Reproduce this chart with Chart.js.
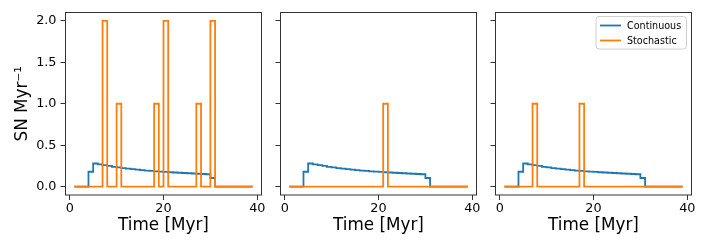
<!DOCTYPE html>
<html>
<head>
<meta charset="utf-8">
<script src="https://cdn.jsdelivr.net/npm/chart.js@4"></script>
<style>
  html, body { margin: 0; padding: 0; background: #fff; }
  #wrap { position: relative; width: 706px; height: 247px; }
  #wrap canvas { position: absolute; left: 0; top: 0; }
</style>
</head>
<body>
<div id="wrap">
  <canvas id="panel1" width="706" height="247"></canvas>
  <canvas id="panel2" width="706" height="247"></canvas>
  <canvas id="panel3" width="706" height="247"></canvas>
</div>
<script>
// time bins (Myr) and SN rates
const timeMyr = [1, 2, 3, 4, 5, 6, 7, 8, 9, 10, 11, 12, 13, 14, 15, 16, 17, 18, 19, 20,
  21, 22, 23, 24, 25, 26, 27, 28, 29, 30, 31, 32, 33, 34, 35, 36, 37, 38, 39]
const continuous = [0, 0, 0, 0.18, 0.28, 0.27, 0.26, 0.25, 0.24, 0.232, 0.225, 0.218, 0.212, 0.206,
  0.2, 0.195, 0.19, 0.186, 0.182, 0.178, 0.174, 0.171, 0.168, 0.165, 0.162, 0.159, 0.156, 0.153,
  0.15, 0.105, 0, 0, 0, 0, 0, 0, 0, 0, 0]
const stochastic1 = [0, 0, 0, 0, 0, 0, 2, 0, 0, 1, 0, 0, 0, 0, 0, 0, 0, 1, 0, 2,
  0, 0, 0, 0, 0, 0, 1, 0, 0, 2, 0, 0, 0, 0, 0, 0, 0, 0, 0]
const stochastic2 = [0, 0, 0, 0, 0, 0, 0, 0, 0, 0, 0, 0, 0, 0, 0, 0, 0, 0, 0, 0,
  1, 0, 0, 0, 0, 0, 0, 0, 0, 0, 0, 0, 0, 0, 0, 0, 0, 0, 0]
const stochastic3 = [0, 0, 0, 0, 0, 0, 1, 0, 0, 0, 0, 0, 0, 0, 0, 0, 1, 0, 0, 0,
  0, 0, 0, 0, 0, 0, 0, 0, 0, 0, 0, 0, 0, 0, 0, 0, 0, 0, 0]
const xTicks = [0, 20, 40]
const yTicks = [0, 0.5, 1, 1.5, 2]
const seriesLabels = ['Continuous', 'Stochastic']
const seriesColors = ['#1f77b4', '#ff7f0e']

Chart.defaults.font.family = '"DejaVu Sans", sans-serif'
Chart.defaults.color = '#000'

const frame = {
  id: 'frame',
  afterDatasetsDraw (chart) {
    const { ctx, chartArea: a } = chart
    ctx.save()
    ctx.strokeStyle = '#333'
    ctx.lineWidth = 1
    ctx.strokeRect(a.left, a.top, a.right - a.left, a.bottom - a.top)
    ctx.restore()
  }
}

const insetLegend = {
  id: 'insetLegend',
  afterDraw (chart) {
    const { ctx, chartArea: a } = chart
    const w = 90.5
    const h = 32.5
    const x0 = a.right - 5 - w
    const y0 = a.top + 4
    ctx.save()
    ctx.beginPath()
    ctx.roundRect(x0, y0, w, h, 3)
    ctx.fillStyle = 'rgba(255,255,255,0.8)'
    ctx.fill()
    ctx.strokeStyle = '#d0d0d0'
    ctx.lineWidth = 1
    ctx.stroke()
    ctx.font = '9.6px "DejaVu Sans"'
    ctx.textBaseline = 'middle'
    ctx.fillStyle = '#000'
    chart.data.datasets.forEach((ds, i) => {
      const y = y0 + 9 + i * 15
      ctx.beginPath()
      ctx.moveTo(x0 + 4, y)
      ctx.lineTo(x0 + 25, y)
      ctx.strokeStyle = ds.borderColor
      ctx.lineWidth = 1.8
      ctx.stroke()
      ctx.fillText(ds.label, x0 + 31, y + 0.5)
    })
    ctx.restore()
  }
}

function toPoints (values) {
  return timeMyr.map((t, i) => ({ x: t, y: values[i] }))
}

function makePanel (id, stochastic, left, right, showY, extraPlugins) {
  const yWidth = showY ? left : 20
  const config = {
    type: 'line',
    data: {
      datasets: [
        {
          label: seriesLabels[0],
          data: toPoints(continuous),
          borderColor: seriesColors[0],
          backgroundColor: seriesColors[0],
          borderWidth: 1.8,
          stepped: true,
          pointRadius: 0,
          fill: false,
          order: 1
        },
        {
          label: seriesLabels[1],
          data: toPoints(stochastic),
          borderColor: seriesColors[1],
          backgroundColor: seriesColors[1],
          borderWidth: 1.8,
          stepped: true,
          pointRadius: 0,
          fill: false,
          order: 0
        }
      ]
    },
    options: {
      responsive: false,
      animation: false,
      devicePixelRatio: 1,
      layout: {
        padding: { left: left - yWidth, right: 706 - right, top: 12.5, bottom: 0 }
      },
      plugins: { legend: { display: false }, tooltip: { enabled: false } },
      scales: {
        x: {
          type: 'linear',
          min: -0.9,
          max: 40.9,
          afterBuildTicks: (scale) => { scale.ticks = xTicks.map(v => ({ value: v })) },
          afterFit: (scale) => { scale.height = 52 },
          ticks: { font: { size: 12.8 }, padding: 1, maxRotation: 0, callback: (v) => String(v) },
          grid: { drawOnChartArea: false, tickLength: 5, tickColor: '#333', tickWidth: 1 },
          border: { display: false },
          title: { display: true, text: 'Time [Myr]', font: { size: 16.8 }, padding: { top: 0, bottom: 11 } }
        },
        y: {
          min: -0.1,
          max: 2.1,
          afterBuildTicks: (scale) => { scale.ticks = yTicks.map(v => ({ value: v })) },
          afterFit: (scale) => { scale.width = yWidth },
          ticks: {
            font: { size: 12.8 },
            padding: 4,
            callback: (v) => showY ? v.toFixed(1) : ''
          },
          grid: { drawOnChartArea: false, tickLength: 5, tickColor: '#333', tickWidth: 1 },
          border: { display: false },
          title: {
            display: showY,
            text: 'SN Myr⁻¹',
            font: { size: 16.8 },
            padding: { top: 13, bottom: 0 }
          }
        }
      }
    },
    plugins: [frame].concat(extraPlugins)
  }
  return new Chart(document.getElementById(id).getContext('2d'), config) // eslint-disable-line
}

makePanel('panel1', stochastic1, 65.5, 261.5, true, [])
makePanel('panel2', stochastic2, 280.5, 476.5, false, [])
makePanel('panel3', stochastic3, 495.5, 691.5, false, [insetLegend])
</script>
</body>
</html>
